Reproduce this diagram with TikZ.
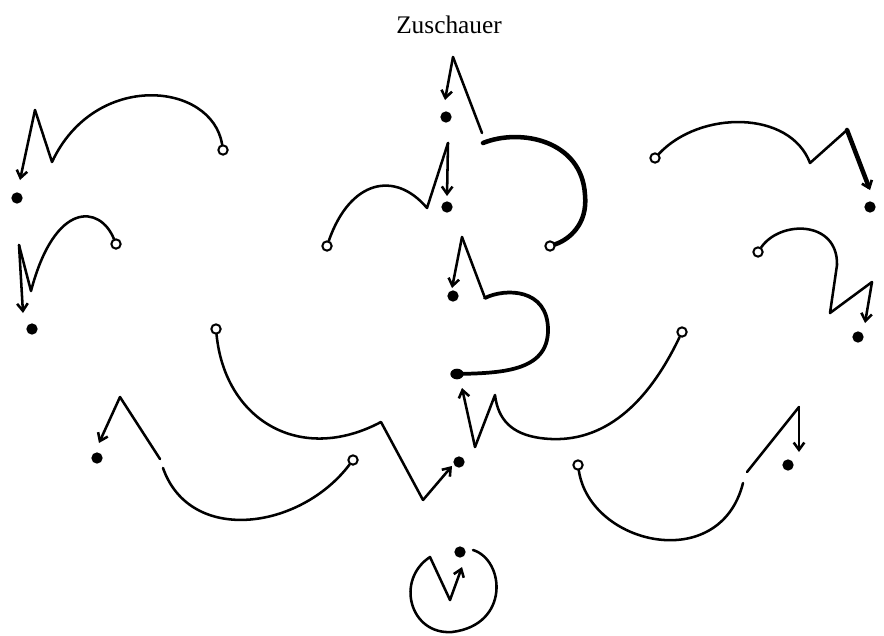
\documentclass[tikz,border=0pt]{standalone}
\usepackage{fontspec}
\setmainfont{Liberation Serif}
\usetikzlibrary{arrows.meta,shapes.geometric}
\begin{document}
\begin{tikzpicture}[x=0.75pt,y=-0.75pt,
  pen/.style={line width=1.9pt,line cap=round,line join=round},
  heavy/.style={line width=3.4pt,line cap=round,line join=round},
  arr/.style={-{Straight Barb[length=5.5pt,width=8pt]}},
  dot/.style={circle,fill,inner sep=0pt,minimum size=8.5pt},
  ring/.style={circle,draw,line width=1.5pt,inner sep=0pt,minimum size=7pt},
  lbl/.style={font=\fontsize{19}{22}\selectfont}]
\useasboundingbox (0,0) rectangle (884,635);

\node[lbl] (title) at (449,25) {Zuschauer};

% top-left
\node[ring] (r1) at (223,150) {};
\node[dot] (d1) at (17,198) {};
\coordinate (v1) at (52,162); \coordinate (p1) at (35,110); \coordinate (t1) at (20,180);
\draw[pen] (r1) .. controls (212,82) and (95,70) .. (v1) -- (p1);
\draw[pen,arr] (p1) -- (t1);

% second left
\node[ring] (r2) at (116,244) {};
\node[dot] (d2) at (32,329) {};
\coordinate (v2) at (31,291); \coordinate (p2) at (19,245); \coordinate (t2) at (23,313);
\draw[pen] (r2) .. controls (100,205) and (55,200) .. (v2) -- (p2);
\draw[pen,arr] (p2) -- (t2);

% middle-left long curve
\node[ring] (r3) at (216,329) {};
\node[dot] (d3) at (459,462) {};
\coordinate (v3) at (381,422); \coordinate (p3) at (423,500); \coordinate (t3) at (452,466);
\draw[pen] (r3) .. controls (225,420) and (300,465) .. (v3) -- (p3);
\draw[pen,arr] (p3) -- (t3);

% bottom-left
\node[ring] (r4) at (353,460) {};
\node[dot] (d4) at (97,458) {};
\coordinate (e4) at (163,468); \coordinate (s4) at (160,459);
\coordinate (p4) at (120,397); \coordinate (t4) at (99,443);
\draw[pen] (r4) .. controls (300,530) and (190,545) .. (e4);
\draw[pen] (s4) -- (p4);
\draw[pen,arr] (p4) -- (t4);

% centre top
\node[dot] (d5) at (446,117) {};
\node[ring] (r5) at (550,246) {};
\coordinate (s5) at (482,133); \coordinate (p5) at (453,57); \coordinate (t5) at (445,100);
\coordinate (a5) at (483,143); \coordinate (m5) at (585,195);
\draw[pen] (s5) -- (p5);
\draw[pen,arr] (p5) -- (t5);
\draw[heavy] (a5) .. controls (520,128) and (582,140) .. (m5) .. controls (588,225) and (568,240) .. (r5);

% centre second
\node[ring] (r6) at (327,246) {};
\node[dot] (d6) at (447,207) {};
\coordinate (v6) at (427,208); \coordinate (p6) at (448,143); \coordinate (t6) at (447,196);
\draw[pen] (r6) .. controls (350,180) and (395,170) .. (v6) -- (p6);
\draw[pen,arr] (p6) -- (t6);

% centre third
\node[dot] (d7) at (453,296) {};
\node[dot,ellipse,minimum width=10pt,minimum height=8pt] (d8) at (457,374) {};
\coordinate (s7) at (485,298); \coordinate (p7) at (462,237); \coordinate (t7) at (452,288);
\coordinate (m7) at (548,330);
\draw[pen] (s7) -- (p7);
\draw[pen,arr] (p7) -- (t7);
\draw[line width=2.8pt,line cap=round] (s7) .. controls (505,288) and (548,288) .. (m7) .. controls (548,372) and (500,373) .. (d8.center);

% centre lower
\node[ring] (r9) at (682,332) {};
\coordinate (m9) at (540,438); \coordinate (p9) at (495,395);
\coordinate (v9) at (475,447); \coordinate (t9) at (462,388);
\draw[pen] (r9) .. controls (640,420) and (590,445) .. (m9) .. controls (512,434) and (498,420) .. (p9) -- (v9);
\draw[pen,arr] (v9) -- (t9);

% right top
\node[ring] (r10) at (655,158) {};
\node[dot] (d10) at (870,207) {};
\coordinate (v10) at (810,163); \coordinate (p10) at (847,130); \coordinate (t10) at (870,190);
\draw[pen] (r10) .. controls (700,110) and (790,110) .. (v10) -- (p10);
\draw[line width=3.4pt,line cap=round,-{Straight Barb[length=5pt,width=8pt,line width=2pt]}] (p10) -- (t10);

% right second
\node[ring] (r11) at (758,252) {};
\node[dot] (d11) at (858,337) {};
\coordinate (m11) at (837,265); \coordinate (v11) at (830,313);
\coordinate (p11) at (872,282); \coordinate (t11) at (865,323);
\draw[pen] (r11) .. controls (780,220) and (838,220) .. (m11) -- (v11) -- (p11);
\draw[pen,arr] (p11) -- (t11);

% right bottom
\node[ring] (r12) at (578,465) {};
\node[dot] (d12) at (788,465) {};
\coordinate (e12) at (743,483); \coordinate (s12) at (747,472);
\coordinate (p12) at (799,407); \coordinate (t12) at (799,452);
\draw[pen] (r12) .. controls (590,545) and (720,575) .. (e12);
\draw[pen] (s12) -- (p12);
\draw[pen,arr] (p12) -- (t12);

% bottom circle
\node[dot] (d13) at (460,552) {};
\coordinate (s13) at (473,550); \coordinate (b13) at (452,632);
\coordinate (p13) at (430,557); \coordinate (v13) at (450,600); \coordinate (t13) at (462,567);
\draw[pen] (s13) .. controls (505,560) and (510,625) .. (b13) .. controls (410,635) and (395,580) .. (p13) -- (v13);
\draw[pen,arr] (v13) -- (t13);
\end{tikzpicture}
\end{document}
